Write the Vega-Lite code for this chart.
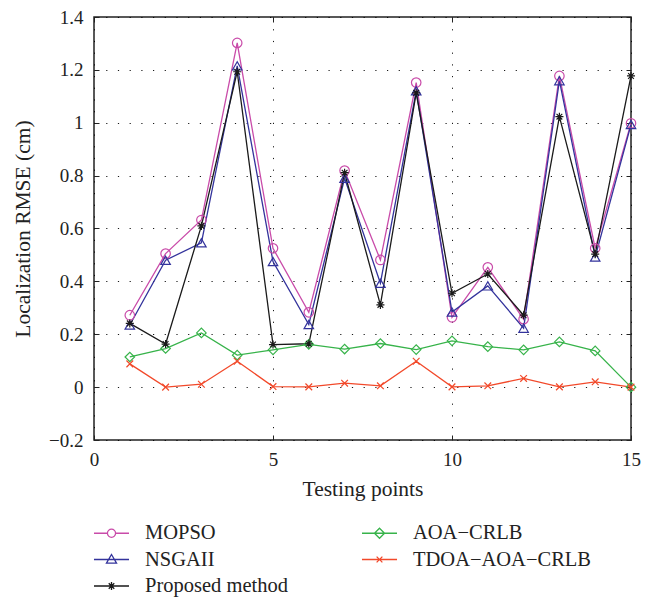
{
  "$schema": "https://vega.github.io/schema/vega-lite/v6.json",
  "width": 537,
  "height": 423,
  "autosize": {"type": "none"},
  "padding": {"left": 94, "top": 17, "right": 28, "bottom": 157},
  "background": "white",
  "config": {
    "view": {"stroke": "#222", "strokeWidth": 1.5},
    "font": "Liberation Serif",
    "axis": {
      "domain": false,
      "grid": true,
      "gridColor": "#000",
      "gridDash": [1.2, 10.5],
      "gridWidth": 1,
      "gridOpacity": 0.9,
      "tickColor": "#222",
      "tickSize": -5,
      "tickWidth": 1,
      "labelFont": "Liberation Serif",
      "labelFontSize": 19,
      "labelColor": "#222",
      "titleFont": "Liberation Serif",
      "titleFontSize": 21.5,
      "titleFontWeight": "normal",
      "titleColor": "#222"
    },
    "legend": {
      "orient": "none",
      "legendX": 4.5,
      "legendY": 503,
      "columns": 2,
      "columnPadding": 70,
      "rowPadding": 2.5,
      "labelFont": "Liberation Serif",
      "labelFontSize": 20.5,
      "labelColor": "#222",
      "labelOffset": 20.5,
      "labelLimit": 300,
      "symbolSize": 576,
      "symbolStrokeWidth": 1.3,
      "symbolOpacity": 1,
      "symbolFillColor": "transparent"
    }
  },
  "data": {"values": [
    {"x": 1, "s": "MOPSO", "v": 0.272},
    {"x": 2, "s": "MOPSO", "v": 0.505},
    {"x": 3, "s": "MOPSO", "v": 0.632},
    {"x": 4, "s": "MOPSO", "v": 1.302},
    {"x": 5, "s": "MOPSO", "v": 0.525},
    {"x": 6, "s": "MOPSO", "v": 0.283},
    {"x": 7, "s": "MOPSO", "v": 0.819},
    {"x": 8, "s": "MOPSO", "v": 0.481},
    {"x": 9, "s": "MOPSO", "v": 1.152},
    {"x": 10, "s": "MOPSO", "v": 0.264},
    {"x": 11, "s": "MOPSO", "v": 0.453},
    {"x": 12, "s": "MOPSO", "v": 0.257},
    {"x": 13, "s": "MOPSO", "v": 1.177},
    {"x": 14, "s": "MOPSO", "v": 0.525},
    {"x": 15, "s": "MOPSO", "v": 0.998},
    {"x": 1, "s": "NSGAII", "v": 0.235},
    {"x": 2, "s": "NSGAII", "v": 0.48},
    {"x": 3, "s": "NSGAII", "v": 0.546},
    {"x": 4, "s": "NSGAII", "v": 1.215},
    {"x": 5, "s": "NSGAII", "v": 0.475},
    {"x": 6, "s": "NSGAII", "v": 0.237},
    {"x": 7, "s": "NSGAII", "v": 0.79},
    {"x": 8, "s": "NSGAII", "v": 0.393},
    {"x": 9, "s": "NSGAII", "v": 1.121},
    {"x": 10, "s": "NSGAII", "v": 0.284},
    {"x": 11, "s": "NSGAII", "v": 0.383},
    {"x": 12, "s": "NSGAII", "v": 0.223},
    {"x": 13, "s": "NSGAII", "v": 1.159},
    {"x": 14, "s": "NSGAII", "v": 0.492},
    {"x": 15, "s": "NSGAII", "v": 0.993},
    {"x": 1, "s": "Proposed method", "v": 0.241},
    {"x": 2, "s": "Proposed method", "v": 0.163},
    {"x": 3, "s": "Proposed method", "v": 0.61},
    {"x": 4, "s": "Proposed method", "v": 1.193},
    {"x": 5, "s": "Proposed method", "v": 0.161},
    {"x": 6, "s": "Proposed method", "v": 0.164},
    {"x": 7, "s": "Proposed method", "v": 0.811},
    {"x": 8, "s": "Proposed method", "v": 0.311},
    {"x": 9, "s": "Proposed method", "v": 1.113},
    {"x": 10, "s": "Proposed method", "v": 0.355},
    {"x": 11, "s": "Proposed method", "v": 0.428},
    {"x": 12, "s": "Proposed method", "v": 0.272},
    {"x": 13, "s": "Proposed method", "v": 1.023},
    {"x": 14, "s": "Proposed method", "v": 0.503},
    {"x": 15, "s": "Proposed method", "v": 1.177},
    {"x": 1, "s": "AOA−CRLB", "v": 0.114},
    {"x": 2, "s": "AOA−CRLB", "v": 0.146},
    {"x": 3, "s": "AOA−CRLB", "v": 0.205},
    {"x": 4, "s": "AOA−CRLB", "v": 0.121},
    {"x": 5, "s": "AOA−CRLB", "v": 0.141},
    {"x": 6, "s": "AOA−CRLB", "v": 0.162},
    {"x": 7, "s": "AOA−CRLB", "v": 0.144},
    {"x": 8, "s": "AOA−CRLB", "v": 0.165},
    {"x": 9, "s": "AOA−CRLB", "v": 0.142},
    {"x": 10, "s": "AOA−CRLB", "v": 0.175},
    {"x": 11, "s": "AOA−CRLB", "v": 0.153},
    {"x": 12, "s": "AOA−CRLB", "v": 0.141},
    {"x": 13, "s": "AOA−CRLB", "v": 0.171},
    {"x": 14, "s": "AOA−CRLB", "v": 0.137},
    {"x": 15, "s": "AOA−CRLB", "v": 0.0},
    {"x": 1, "s": "TDOA−AOA−CRLB", "v": 0.088},
    {"x": 2, "s": "TDOA−AOA−CRLB", "v": 0.0},
    {"x": 3, "s": "TDOA−AOA−CRLB", "v": 0.011},
    {"x": 4, "s": "TDOA−AOA−CRLB", "v": 0.098},
    {"x": 5, "s": "TDOA−AOA−CRLB", "v": 0.002},
    {"x": 6, "s": "TDOA−AOA−CRLB", "v": 0.001},
    {"x": 7, "s": "TDOA−AOA−CRLB", "v": 0.015},
    {"x": 8, "s": "TDOA−AOA−CRLB", "v": 0.005},
    {"x": 9, "s": "TDOA−AOA−CRLB", "v": 0.098},
    {"x": 10, "s": "TDOA−AOA−CRLB", "v": 0.001},
    {"x": 11, "s": "TDOA−AOA−CRLB", "v": 0.005},
    {"x": 12, "s": "TDOA−AOA−CRLB", "v": 0.033},
    {"x": 13, "s": "TDOA−AOA−CRLB", "v": 0.001},
    {"x": 14, "s": "TDOA−AOA−CRLB", "v": 0.02},
    {"x": 15, "s": "TDOA−AOA−CRLB", "v": 0.0}
  ]},
  "encoding": {
    "x": {
      "field": "x", "type": "quantitative",
      "scale": {"domain": [0, 15], "nice": false, "zero": false},
      "axis": null
    },
    "y": {
      "field": "v", "type": "quantitative",
      "scale": {"domain": [-0.2, 1.4], "nice": false, "zero": false},
      "axis": null
    }
  },
  "layer": [
    {
      "mark": {"type": "line", "strokeWidth": 1.3},
      "encoding": {
        "x": {
          "field": "x", "type": "quantitative",
          "scale": {"domain": [0, 15], "nice": false, "zero": false},
          "axis": {"values": [0, 5, 10, 15], "title": "Testing points", "labelPadding": 15, "titlePadding": 9, "labelFlush": false}
        },
        "y": {
          "field": "v", "type": "quantitative",
          "scale": {"domain": [-0.2, 1.4], "nice": false, "zero": false},
          "axis": {"values": [-0.2, 0, 0.2, 0.4, 0.6, 0.8, 1, 1.2, 1.4], "format": "~g", "title": "Localization RMSE (cm)", "labelPadding": 16, "titlePadding": 14}
        },
        "color": {
          "field": "s", "type": "nominal",
          "scale": {
            "domain": ["MOPSO", "NSGAII", "Proposed method", "AOA−CRLB", "TDOA−AOA−CRLB"],
            "range": ["#c94ba9", "#33339c", "#1a1a1a", "#37b34a", "#f2492a"]
          },
          "legend": {"title": null}
        }
      }
    },
    {
      "mark": {"type": "point", "filled": false, "opacity": 0, "size": 90},
      "encoding": {
        "x": {
          "field": "x", "type": "quantitative",
          "scale": {"domain": [0, 15], "nice": false, "zero": false},
          "axis": {"orient": "top", "values": [0, 5, 10, 15], "labels": false, "grid": false, "title": null}
        },
        "y": {
          "field": "v", "type": "quantitative",
          "scale": {"domain": [-0.2, 1.4], "nice": false, "zero": false},
          "axis": {"orient": "right", "values": [-0.2, 0, 0.2, 0.4, 0.6, 0.8, 1, 1.2, 1.4], "labels": false, "grid": false, "title": null}
        },
        "color": {"field": "s", "type": "nominal", "legend": {"title": null}},
        "shape": {
          "field": "s", "type": "nominal",
          "scale": {
            "domain": ["MOPSO", "NSGAII", "Proposed method", "AOA−CRLB", "TDOA−AOA−CRLB"],
            "range": [
              "M-1.46,0H-0.34M0.34,0H1.46M-0.34,0A0.34,0.34 0 1,1 0.34,0A0.34,0.34 0 1,1 -0.34,0Z",
              "M-1.46,0H1.46M0,-0.42L0.42,0.3L-0.42,0.3Z",
              "M-1.46,0H1.46M0,-0.33V0.33M-0.23,-0.23L0.23,0.23M-0.23,0.23L0.23,-0.23",
              "M-1.46,0H1.46M0,-0.42L0.42,0L0,0.42L-0.42,0Z",
              "M-1.46,0H1.46M-0.24,-0.24L0.24,0.24M-0.24,0.24L0.24,-0.24"
            ]
          },
          "legend": {"title": null}
        }
      }
    },
    {
      "transform": [{"filter": {"field": "s", "equal": "MOPSO"}}],
      "mark": {"type": "point", "filled": false, "strokeWidth": 1.2, "size": 90, "opacity": 1, "shape": "circle"},
      "encoding": {"color": {"field": "s", "type": "nominal", "legend": null}}
    },
    {
      "transform": [{"filter": {"field": "s", "equal": "NSGAII"}}],
      "mark": {"type": "point", "filled": false, "strokeWidth": 1.2, "size": 90, "opacity": 1, "shape": "triangle-up"},
      "encoding": {"color": {"field": "s", "type": "nominal", "legend": null}}
    },
    {
      "transform": [{"filter": {"field": "s", "equal": "AOA−CRLB"}}],
      "mark": {"type": "point", "filled": false, "strokeWidth": 1.2, "size": 90, "opacity": 1, "shape": "diamond"},
      "encoding": {"color": {"field": "s", "type": "nominal", "legend": null}}
    },
    {
      "transform": [{"filter": {"field": "s", "equal": "TDOA−AOA−CRLB"}}],
      "mark": {"type": "point", "filled": false, "strokeWidth": 1.2, "size": 70, "opacity": 1, "shape": "M-0.8,-0.8L0.8,0.8M-0.8,0.8L0.8,-0.8"},
      "encoding": {"color": {"field": "s", "type": "nominal", "legend": null}}
    },
    {
      "transform": [{"filter": {"field": "s", "equal": "Proposed method"}}],
      "mark": {"type": "point", "filled": false, "strokeWidth": 1.2, "size": 80, "opacity": 1, "shape": "M0,-0.9V0.9M-0.9,0H0.9M-0.64,-0.64L0.64,0.64M-0.64,0.64L0.64,-0.64"},
      "encoding": {"color": {"field": "s", "type": "nominal", "legend": null}}
    }
  ],
  "resolve": {"axis": {"x": "independent", "y": "independent"}}
}
